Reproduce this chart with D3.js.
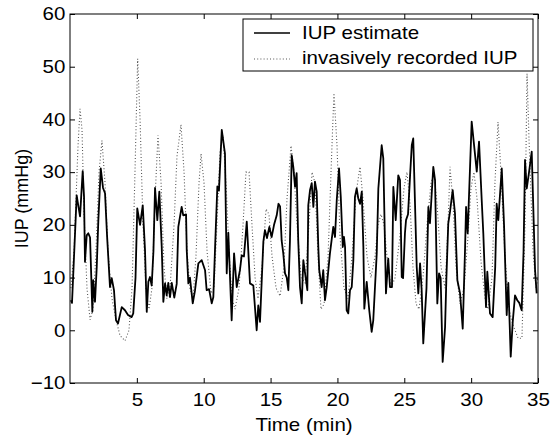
<!DOCTYPE html>
<html>
<head>
<meta charset="utf-8">
<script src="https://cdn.jsdelivr.net/npm/d3@7"></script>
<style>
  body { margin: 0; background: #fff; }
  text { font-family: "Liberation Sans", Arial, Helvetica, sans-serif; }
</style>
</head>
<body>
<div id="chart"></div>
<script>
// IUP estimate (solid): time (min) and pressure (mmHg)
const estTime = [0.07,0.15,0.50,0.60,0.75,0.95,1.05,1.12,1.25,1.37,1.50,1.67,1.74,1.87,2.00,2.12,2.30,2.47,2.62,2.77,
  2.99,3.12,3.29,3.44,3.59,3.87,4.11,4.34,4.61,4.73,4.90,5.03,5.24,5.44,5.61,5.74,5.86,5.98,6.11,6.24,
  6.36,6.53,6.68,6.86,6.98,7.11,7.23,7.35,7.48,7.61,7.80,7.98,8.10,8.35,8.47,8.68,8.73,8.85,8.97,9.18,
  9.35,9.60,9.85,10.10,10.22,10.40,10.60,10.72,10.84,11.02,11.14,11.35,11.59,11.72,11.84,12.09,12.27,12.47,12.71,12.84,
  13.01,13.22,13.46,13.71,13.96,14.08,14.21,14.46,14.58,14.73,14.91,15.08,15.26,15.46,15.59,15.71,15.83,15.95,16.08,16.21,
  16.33,16.45,16.58,16.70,16.83,16.95,17.07,17.20,17.33,17.45,17.58,17.75,17.82,17.95,18.08,18.20,18.32,18.45,18.57,18.64,
  18.82,18.94,19.07,19.20,19.44,19.69,19.82,19.95,20.12,20.25,20.40,20.49,20.57,20.69,20.81,20.94,21.07,21.19,21.31,21.44,
  21.56,21.69,21.82,21.94,22.01,22.19,22.38,22.56,22.68,22.94,23.06,23.31,23.43,23.63,23.80,23.93,24.08,24.18,24.36,24.55,
  24.68,24.81,24.91,25.05,25.13,25.28,25.43,25.56,25.67,25.93,26.05,26.18,26.30,26.42,26.55,26.66,26.80,26.92,27.17,27.30,
  27.47,27.60,27.72,27.87,28.05,28.15,28.29,28.42,28.62,28.79,28.97,29.17,29.37,29.54,29.62,29.74,30.04,30.42,30.59,30.79,
  30.91,31.11,31.21,31.41,31.61,31.80,31.91,32.03,32.29,32.46,32.66,32.78,32.96,33.11,33.28,33.45,33.60,33.78,33.92,34.03,
  34.16,34.33,34.53,34.78,34.90];
const estValue = [5.7,5.2,25.6,24,21.6,30.2,25.3,13,18,18.4,17.6,3.5,9.5,5.4,12,20.9,30.7,27,26,18,
  8.2,9.9,7.6,1.9,1.3,4.4,3.8,2.9,2.5,3.2,10,23.1,20,23.7,15.2,3.5,9.2,10.1,8.5,15,
  27,20.9,26.3,15.8,5.4,8.9,6.6,9,6.3,9,6.2,8.8,19.6,23.4,21.8,22,15.2,8.9,10,5.1,
  7.6,12.7,13.3,11.4,7.6,7.8,5.1,6.3,15,27.3,26.5,38,33.5,10.8,18.5,1.9,14.6,8.2,11.4,14.2,
  14,20.6,8.9,8.5,0,4.7,1.6,16.8,19,17.5,19.6,17.7,20,21.8,24,23.5,17,14.6,10.8,10,
  7.6,17,33.2,31,27.2,29.8,17,8.2,5.1,13.3,10.8,7.6,23.7,26.6,27.9,23.4,28.2,26.3,15.8,11.4,
  8.2,11.4,5.7,8.2,14.6,19.6,17.7,24.7,30.7,25.3,15.8,17.7,15.8,3.8,3.2,7.6,8.2,13.3,25.3,26.9,
  25,24,26.3,15.8,4.1,9.2,3.8,-0.3,1.9,14.6,26.9,35.1,32.6,7,13.6,8.2,8.2,27.2,20.9,29.4,
  28.5,10.1,9.9,18.4,20.9,22,29.2,35.1,36.4,12,7,12.7,7.6,-2.5,3.2,8,23.4,20.3,31,28.5,
  5.1,10.8,9.9,-6,0.6,10,20.3,22.5,26.6,22.2,9.5,7,0.3,15,23.4,18.4,39.6,30.1,35.8,24.7,
  18.4,4.4,11.1,3.2,2.5,12,24,20.9,30.7,20,2.9,9,-5,1.6,6.6,5.7,5.2,3.8,15,32.3,
  26.9,30,33.9,11.4,7];

// invasively recorded IUP (dotted)
const recTime = [0.07,0.30,0.60,0.75,0.90,1.05,1.27,1.50,1.72,1.94,2.17,2.39,2.62,2.84,3.14,3.44,3.74,4.11,4.41,4.64,
  4.86,5.06,5.24,5.46,5.68,5.91,6.13,6.36,6.58,6.81,7.03,7.25,7.48,7.78,8.00,8.30,8.53,8.75,8.97,9.20,
  9.42,9.65,9.80,10.02,10.25,10.55,10.77,10.99,11.22,11.44,11.67,11.89,12.12,12.34,12.64,12.94,13.16,13.39,13.61,13.84,
  14.06,14.36,14.66,14.88,15.11,15.41,15.71,16.00,16.23,16.53,16.75,16.98,17.28,17.58,17.87,18.10,18.32,18.55,18.77,19.00,
  19.30,19.52,19.74,19.97,20.19,20.49,20.79,21.09,21.39,21.69,21.91,22.21,22.51,22.81,23.03,23.26,23.48,23.71,24.01,24.31,
  24.68,24.98,25.20,25.43,25.65,25.88,26.10,26.40,26.70,27.00,27.22,27.45,27.75,28.05,28.27,28.42,28.65,28.87,29.17,29.47,
  29.77,29.99,30.21,30.44,30.74,31.04,31.26,31.56,31.78,32.01,32.23,32.53,32.83,33.13,33.51,33.80,34.03,34.18,34.33,34.63,
  34.85,35.00];
const recValue = [8,15,35,42,38,22,8,2,4,15,30,36,28,15,6,2,-1,-2,0,8,
  30,51.5,40,20,8,4,8,25,37,28,12,6,8,20,33,39,30,15,8,6,
  14,28,33.5,28,15,7,8,20,34,37,28,15,6,4,8,20,30,30,20,10,
  6,12,23,22,14,8,6.5,12,25,35,30,20,10,9,20,30,28,14,4,5,
  14,30,45,35,18,8,6,14,26,31,25,14,10,14,20,22,20,14,8,10,
  18,27,30,24,12,5,4,10,20,28,30,24,12,8,20,31,24,12,5,8,
  18,27,30,25,13,6,4,10,28,39.5,30,14,4,1,-1.5,-1.5,20,48.7,36,15,
  8,10];

const xTicks = [5, 10, 15, 20, 25, 30, 35];
const yTicks = [-10, 0, 10, 20, 30, 40, 50, 60];
const seriesNames = ["IUP estimate", "invasively recorded IUP"];

const W = 550, H = 438;
const margin = { left: 70, top: 14, right: 12, bottom: 55 };
const fontSize = 18;
const sx = 1.14;  // the source text is a bit wider than Liberation Sans

const svg = d3.select("#chart").append("svg")
  .attr("width", W).attr("height", H);

const x = d3.scaleLinear().domain([0, 35]).range([margin.left, W - margin.right]);
const y = d3.scaleLinear().domain([-10, 60]).range([H - margin.bottom, margin.top]);

svg.append("clipPath").attr("id", "plot")
  .append("rect")
  .attr("x", x(0)).attr("y", y(60))
  .attr("width", x(35) - x(0)).attr("height", y(-10) - y(60));

const line = d3.line().x(d => x(d[0])).y(d => y(d[1]));
const rec = d3.zip(recTime, recValue);
const est = d3.zip(estTime, estValue);

const plot = svg.append("g").attr("clip-path", "url(#plot)");
plot.append("path").datum(rec)
  .attr("d", line).attr("fill", "none")
  .attr("stroke", "#555").attr("stroke-width", 1.1)
  .attr("stroke-dasharray", "1,2.2");
plot.append("path").datum(est)
  .attr("d", line).attr("fill", "none")
  .attr("stroke", "#000").attr("stroke-width", 1.8)
  .attr("stroke-linejoin", "round");

// axes, MATLAB style: ticks inside on all four sides
const tickLen = 5;
svg.append("g").attr("transform", `translate(0,${y(-10)})`)
  .call(d3.axisBottom(x).tickValues(xTicks).tickSize(-tickLen).tickPadding(10))
  .call(g => g.select(".domain").remove())
  .call(g => g.selectAll("text").attr("font-size", fontSize).attr("fill", "#000")
    .attr("transform", `scale(${sx},1)`));
svg.append("g").attr("transform", `translate(0,${y(60)})`)
  .call(d3.axisTop(x).tickValues(xTicks).tickSize(-tickLen).tickFormat(""))
  .call(g => g.select(".domain").remove());
svg.append("g").attr("transform", `translate(${x(0)},0)`)
  .call(d3.axisLeft(y).tickValues(yTicks).tickSize(-tickLen).tickPadding(4))
  .call(g => g.select(".domain").remove())
  .call(g => g.selectAll("text").attr("font-size", fontSize).attr("fill", "#000")
    .attr("transform", `scale(${sx},1)`));
svg.append("g").attr("transform", `translate(${x(35)},0)`)
  .call(d3.axisRight(y).tickValues(yTicks).tickSize(-tickLen).tickFormat(""))
  .call(g => g.select(".domain").remove());

svg.append("rect")
  .attr("x", x(0)).attr("y", y(60))
  .attr("width", x(35) - x(0)).attr("height", y(-10) - y(60))
  .attr("fill", "none").attr("stroke", "#000").attr("stroke-width", 1);

svg.append("text")
  .attr("transform", `translate(${(x(0) + x(35)) / 2},431) scale(${sx},1)`)
  .attr("text-anchor", "middle").attr("font-size", fontSize)
  .text("Time (min)");

svg.append("text")
  .attr("transform", `translate(28,${(y(60) + y(-10)) / 2}) rotate(-90)`)
  .attr("text-anchor", "middle").attr("font-size", fontSize)
  .text("IUP (mmHg)");

// legend
const lg = svg.append("g");
lg.append("rect")
  .attr("x", 243).attr("y", 19).attr("width", 290).attr("height", 52)
  .attr("fill", "#fff").attr("stroke", "#000").attr("stroke-width", 1);
const rows = [{ yy: 33, dash: null, color: "#000", w: 1.3 }, { yy: 59, dash: "1,2.2", color: "#555", w: 1.1 }];
rows.forEach((r, i) => {
  lg.append("line")
    .attr("x1", 254).attr("x2", 290).attr("y1", r.yy).attr("y2", r.yy)
    .attr("stroke", r.color).attr("stroke-width", r.w)
    .attr("stroke-dasharray", r.dash);
  lg.append("text")
    .attr("transform", `translate(302,${i === 0 ? 39 : 64}) scale(${sx},1)`)
    .attr("font-size", fontSize)
    .text(seriesNames[i]);
});
</script>
</body>
</html>
